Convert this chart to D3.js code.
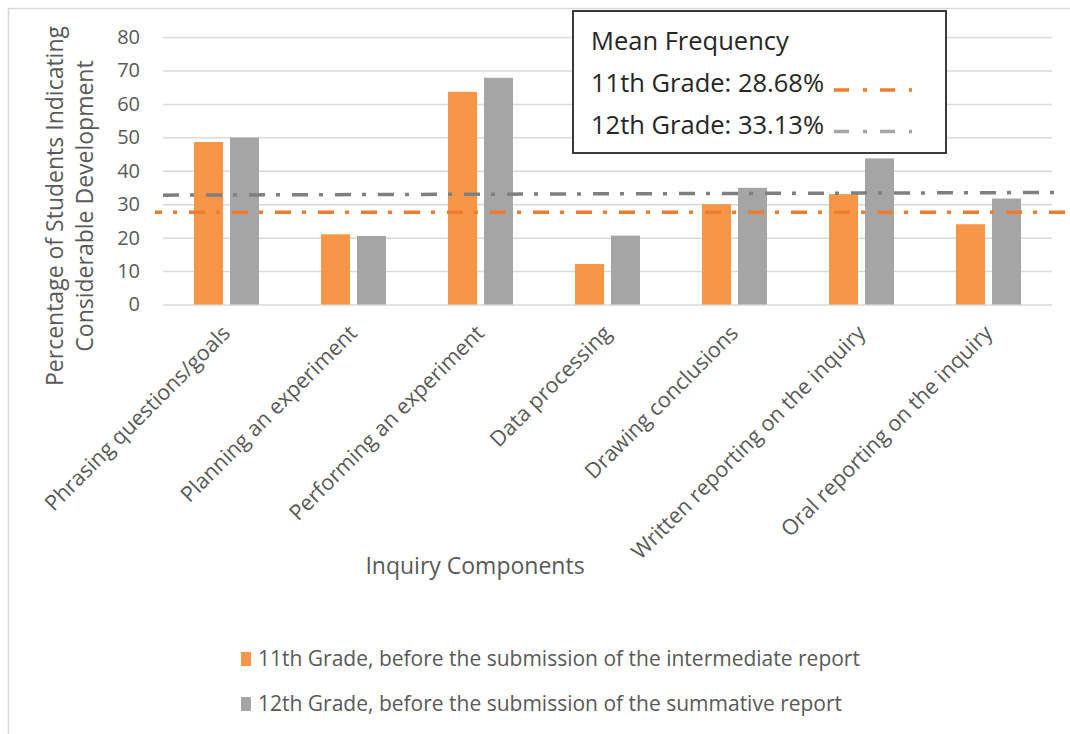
<!DOCTYPE html>
<html>
<head>
<meta charset="utf-8">
<script src="https://cdn.jsdelivr.net/npm/d3@7"></script>
<style>
  body { margin: 0; background: #fff; }
  svg { display: block; font-family: "Open Sans", sans-serif; }
</style>
</head>
<body>
<svg id="chart"></svg>
<script>
// values
const categories = [
  "Phrasing questions/goals",
  "Planning an experiment",
  "Performing an experiment",
  "Data processing",
  "Drawing conclusions",
  "Written reporting on the inquiry",
  "Oral reporting on the inquiry"
];
const seriesNames = [
  "11th Grade, before the submission of the intermediate report",
  "12th Grade, before the submission of the summative report"
];
const grade11 = [48.6, 21.0, 63.6, 12.1, 30.0, 33.0, 24.0];
const grade12 = [49.9, 20.5, 67.8, 20.6, 34.9, 43.7, 31.7];
const yTicks = [0, 10, 20, 30, 40, 50, 60, 70, 80];
const meanTitle = "Mean Frequency";
const meanLabels = ["11th Grade: 28.68%", "12th Grade: 33.13%"];
// where the dash-dot mean lines sit (start, end)
const meanLine11 = [27.6, 27.6];
const meanLine12 = [32.7, 33.5];

const width = 1070, height = 734;
const orange = "#F79646", grey = "#A5A5A5";
const textCol = "#595959";

const svg = d3.select("#chart")
    .attr("width", width)
    .attr("height", height)
    .attr("viewBox", `0 0 ${width} ${height}`);

// chart area border
svg.append("rect")
    .attr("x", 8.5).attr("y", 8.5)
    .attr("width", 1100).attr("height", 800)
    .attr("fill", "#fff")
    .attr("stroke", "#d9d9d9")
    .attr("stroke-width", 1.5);

const plotLeft = 163, plotRight = 1052;

const x0 = d3.scaleBand().domain(categories).range([plotLeft, plotRight]);
const x1 = d3.scaleBand().domain([0, 1]).range([31, 96]).paddingInner(0.194);
const y = d3.scaleLinear().domain([0, 80]).range([304.5, 37]);

// y axis + gridlines
const yAxis = svg.append("g")
    .attr("transform", `translate(${plotLeft},0)`)
    .call(d3.axisLeft(y).tickValues(yTicks).tickSize(-(plotRight - plotLeft)).tickPadding(23));
yAxis.select(".domain").remove();
yAxis.selectAll(".tick line").attr("stroke", "#d9d9d9").attr("stroke-width", 1.5);
yAxis.selectAll(".tick text")
    .attr("fill", textCol)
    .style("font-family", "Open Sans")
    .style("font-size", "20px");

// bars
const rows = categories.map((c, i) => ({ cat: c, vals: [grade11[i], grade12[i]] }));
const groups = svg.append("g").selectAll("g")
    .data(rows)
    .enter()
    .append("g")
    .attr("transform", d => `translate(${x0(d.cat)},0)`);

groups.selectAll("rect")
    .data(d => d.vals.map((v, k) => ({ k, v })))
    .enter()
    .append("rect")
    .attr("x", d => x1(d.k))
    .attr("width", x1.bandwidth())
    .attr("y", d => y(d.v))
    .attr("height", d => y(0) - y(d.v))
    .attr("fill", d => d.k === 0 ? orange : grey);

// x axis labels
const xAxis = svg.append("g")
    .attr("transform", `translate(0,${y(0)})`)
    .call(d3.axisBottom(x0).tickSize(0));
xAxis.select(".domain").remove();
xAxis.selectAll(".tick text")
    .attr("x", 0).attr("y", 0).attr("dy", 0)
    .attr("text-anchor", "end")
    .attr("transform", "translate(5,30) rotate(-45)")
    .attr("fill", textCol)
    .style("font-family", "Open Sans")
    .style("font-size", "21.5px");

// mean lines
svg.append("line")
    .attr("x1", 155).attr("x2", 1075)
    .attr("y1", y(meanLine11[0])).attr("y2", y(meanLine11[1]))
    .attr("stroke", "#ED7D31")
    .attr("stroke-width", 3.5)
    .attr("stroke-dasharray", "16 11 4 12")
    .attr("stroke-dashoffset", 9);
svg.append("line")
    .attr("x1", 163).attr("x2", 1058)
    .attr("y1", y(meanLine12[0])).attr("y2", y(meanLine12[1]))
    .attr("stroke", "#7f7f7f")
    .attr("stroke-width", 3.5)
    .attr("stroke-dasharray", "16 11 4 12");

// axis titles
const yTitle = svg.append("text")
    .attr("transform", "translate(63,206) rotate(-90)")
    .attr("text-anchor", "middle")
    .attr("fill", textCol)
    .style("font-size", "23px");
yTitle.append("tspan").attr("x", 0).attr("y", 0).text("Percentage of Students Indicating");
yTitle.append("tspan").attr("x", 0).attr("y", 30).text("Considerable Development");

svg.append("text")
    .attr("x", 475).attr("y", 574)
    .attr("text-anchor", "middle")
    .attr("fill", textCol)
    .style("font-size", "23px")
    .text("Inquiry Components");

// mean frequency box
const box = svg.append("g");
box.append("rect")
    .attr("x", 573).attr("y", 11)
    .attr("width", 373).attr("height", 142)
    .attr("fill", "#fff")
    .attr("stroke", "#262626")
    .attr("stroke-width", 1.8);
box.append("text")
    .attr("x", 591).attr("y", 50)
    .attr("fill", "#262626")
    .style("font-size", "25.5px")
    .text(meanTitle);
box.selectAll("text.mean")
    .data(meanLabels)
    .enter()
    .append("text")
    .attr("class", "mean")
    .attr("x", 591)
    .attr("y", (d, i) => 92 + i * 42)
    .attr("fill", "#262626")
    .style("font-size", "25.5px")
    .text(d => d);
box.selectAll("line")
    .data(["#ED7D31", grey])
    .enter()
    .append("line")
    .attr("x1", 834).attr("x2", 912)
    .attr("y1", (d, i) => 90 + i * 41.5)
    .attr("y2", (d, i) => 90 + i * 41.5)
    .attr("stroke", d => d)
    .attr("stroke-width", 3.5)
    .attr("stroke-dasharray", "15 14 4 13");

// series legend
const legend = svg.append("g").selectAll("g")
    .data(seriesNames)
    .enter()
    .append("g")
    .attr("transform", (d, i) => `translate(241,${652 + i * 45})`);
legend.append("rect")
    .attr("width", 10).attr("height", 14)
    .attr("fill", (d, i) => i === 0 ? orange : grey);
legend.append("text")
    .attr("x", 17).attr("y", 7)
    .attr("dy", "0.35em")
    .attr("fill", textCol)
    .style("font-size", "21px")
    .text(d => d);
</script>
</body>
</html>
